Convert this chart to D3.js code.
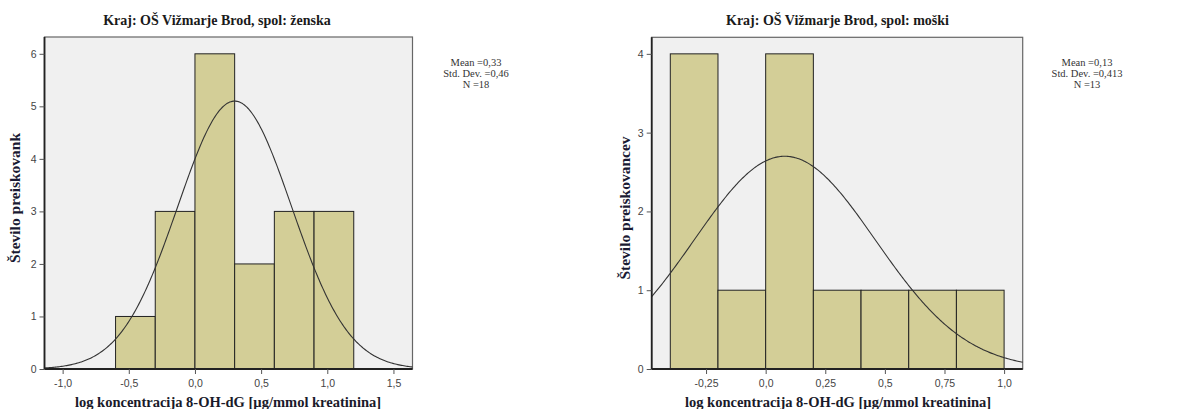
<!DOCTYPE html>
<html><head><meta charset="utf-8">
<script src="https://cdn.jsdelivr.net/npm/d3@7"></script>
<style>body{margin:0;background:#fff}svg{display:block}</style>
</head><body>
<svg id="c" width="1195" height="409"></svg>
<script>
// ---- data ----
const fTitle = "Kraj: OŠ Vižmarje Brod, spol: ženska";
const fYLabel = "Število preiskovank";
const fBinEdges = [-0.6, -0.3, 0.0, 0.3, 0.6, 0.9, 1.2];
const fCounts = [1, 3, 6, 2, 3, 3];
const fXTicks = [-1.0, -0.5, 0.0, 0.5, 1.0, 1.5];
const fXTickLabels = ["-1,0", "-0,5", "0,0", "0,5", "1,0", "1,5"];
const fYTicks = [0, 1, 2, 3, 4, 5, 6];
const fXDomain = [-1.137, 1.644];
const fYDomain = [0, 6.32];
const fCurve = {mean: 0.30, sd: 0.43, peak: 5.1};
const fStats = ["Mean =0,33", "Std. Dev. =0,46", "N =18"];

const mTitle = "Kraj: OŠ Vižmarje Brod, spol: moški";
const mYLabel = "Število preiskovancev";
const mBinEdges = [-0.4, -0.2, 0.0, 0.2, 0.4, 0.6, 0.8, 1.0];
const mCounts = [4, 1, 4, 1, 1, 1, 1];
const mXTicks = [-0.25, 0.0, 0.25, 0.5, 0.75, 1.0];
const mXTickLabels = ["-0,25", "0,0", "0,25", "0,5", "0,75", "1,0"];
const mYTicks = [0, 1, 2, 3, 4];
const mXDomain = [-0.478, 1.078];
const mYDomain = [0, 4.21];
const mCurve = {mean: 0.08, sd: 0.38, peak: 2.7};
const mStats = ["Mean =0,13", "Std. Dev. =0,413", "N =13"];

const xLabel = "log koncentracija 8-OH-dG [µg/mmol kreatinina]";

const svg = d3.select("#c");

function panel(o) {
  const g = svg.append("g");
  const x = d3.scaleLinear().domain(o.xDomain).range([o.left, o.right]);
  const y = d3.scaleLinear().domain(o.yDomain).range([o.bottom, o.top]);
  // background
  g.append("rect").attr("x", o.left).attr("y", o.top)
    .attr("width", o.right - o.left).attr("height", o.bottom - o.top)
    .attr("fill", "#f0f0f0").attr("stroke", "#666").attr("stroke-width", 1.2);
  // bars
  const bins = o.counts.map((c, i) => ({x0: o.edges[i], x1: o.edges[i + 1], c}));
  g.selectAll("rect.bar").data(bins).join("rect").attr("class", "bar")
    .attr("x", d => x(d.x0)).attr("width", d => x(d.x1) - x(d.x0))
    .attr("y", d => y(d.c)).attr("height", d => y(0) - y(d.c))
    .attr("fill", "#d3ce97").attr("stroke", "#222").attr("stroke-width", 1);
  // normal curve
  const n = 300, xs = d3.range(n + 1).map(i => o.xDomain[0] + (o.xDomain[1] - o.xDomain[0]) * i / n);
  const line = d3.line().x(d => x(d)).y(d => y(o.curve.peak * Math.exp(-0.5 * Math.pow((d - o.curve.mean) / o.curve.sd, 2))));
  g.append("path").datum(xs).attr("d", line).attr("fill", "none").attr("stroke", "#333").attr("stroke-width", 1.1);
  // axes
  const xa = d3.axisBottom(x).tickValues(o.xTicks).tickFormat((d, i) => o.xTickLabels[i]).tickSize(5).tickSizeOuter(0);
  const gx = g.append("g").attr("transform", `translate(0,${o.bottom})`).call(xa);
  const ya = d3.axisLeft(y).tickValues(o.yTicks).tickFormat(d3.format("d")).tickSize(5).tickSizeOuter(0);
  const gy = g.append("g").attr("transform", `translate(${o.left},0)`).call(ya);
  [gx, gy].forEach(a => {
    a.select(".domain").attr("stroke", "#222").attr("stroke-width", 1.8);
    a.selectAll(".tick line").attr("stroke", "#555");
    a.selectAll("text").attr("font-family", "'Liberation Sans', Arial, sans-serif").attr("font-size", 10.5).attr("fill", "#444");
  });
  gx.selectAll("text").attr("dy", "0.95em");
  gy.select(".domain").attr("d", `M0,${o.bottom}V${o.top}`);
  gx.select(".domain").attr("d", `M${o.left},0H${o.right}`);
  // title
  g.append("text").attr("x", o.titleX).attr("y", 25).attr("text-anchor", "middle")
    .attr("font-family", "'Liberation Serif', 'Times New Roman', serif").attr("font-weight", "bold")
    .attr("font-size", 14).attr("fill", "#1a1a1a").text(o.title);
  // x label
  g.append("text").attr("x", o.xLabelX).attr("y", 407).attr("text-anchor", "middle")
    .attr("font-family", "'Liberation Serif', 'Times New Roman', serif").attr("font-weight", "bold")
    .attr("font-size", 14.5).attr("fill", "#1a1a2a").text(xLabel);
  // y label
  g.append("text").attr("transform", `translate(${o.yLabelX},${o.yLabelY}) rotate(-90)`).attr("text-anchor", "middle")
    .attr("font-family", "'Liberation Serif', 'Times New Roman', serif").attr("font-weight", "bold")
    .attr("font-size", 15.5).attr("fill", "#1a1a33").text(o.yLabel);
  // stats
  g.selectAll("text.stat").data(o.stats).join("text").attr("class", "stat")
    .attr("x", o.statsX).attr("y", (d, i) => 66 + i * 11).attr("text-anchor", "middle")
    .attr("font-family", "'Liberation Serif', 'Times New Roman', serif").attr("font-size", 10.5)
    .attr("fill", "#333").text(d => d);
}

panel({left: 44.5, right: 412.5, top: 37, bottom: 369, xDomain: fXDomain, yDomain: fYDomain,
  edges: fBinEdges, counts: fCounts, xTicks: fXTicks, xTickLabels: fXTickLabels, yTicks: fYTicks,
  curve: fCurve, title: fTitle, titleX: 217, xLabelX: 228, yLabel: fYLabel, yLabelX: 20, yLabelY: 198,
  stats: fStats, statsX: 476});
panel({left: 651.7, right: 1022.7, top: 37.3, bottom: 369, xDomain: mXDomain, yDomain: mYDomain,
  edges: mBinEdges, counts: mCounts, xTicks: mXTicks, xTickLabels: mXTickLabels, yTicks: mYTicks,
  curve: mCurve, title: mTitle, titleX: 837.5, xLabelX: 838, yLabel: mYLabel, yLabelX: 630, yLabelY: 208,
  stats: mStats, statsX: 1087});
</script>
</body></html>
